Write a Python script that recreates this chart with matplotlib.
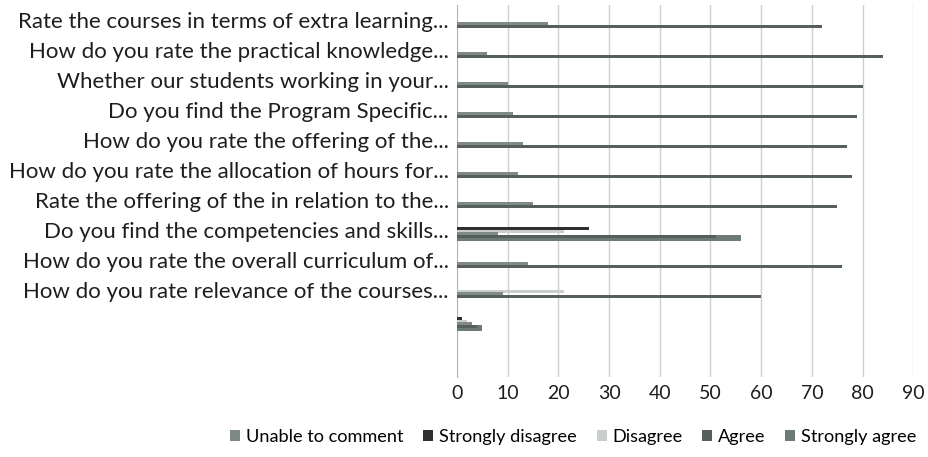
import numpy as np
import matplotlib.pyplot as plt

plt.rcParams['font.family'] = ['Lato', 'DejaVu Sans']

# category labels, top to bottom (last row has no label)
categories = [
    "Rate the courses in terms of extra learning...",
    "How do you rate the practical knowledge...",
    "Whether our students working in your...",
    "Do you find the Program Specific...",
    "How do you rate the offering of the...",
    "How do you rate the allocation of hours for...",
    "Rate the offering of the in relation to the...",
    "Do you find the competencies and skills...",
    "How do you rate the overall curriculum of...",
    "How do you rate relevance of the courses...",
    "",
]

unable = [18, 6, 10, 11, 13, 12, 15, 8, 14, 9, 3]
strongly_disagree = [0, 0, 0, 0, 0, 0, 0, 26, 0, 0, 1]
disagree = [0, 0, 0, 0, 0, 0, 0, 21, 0, 21, 2]
agree = [72, 84, 80, 79, 77, 78, 75, 51, 76, 60, 4]
strongly_agree = [0, 0, 0, 0, 0, 0, 0, 56, 0, 0, 5]

xticks = [0, 10, 20, 30, 40, 50, 60, 70, 80, 90]

fig = plt.figure(figsize=(9.29, 4.57), dpi=100)
ax = fig.add_axes([0.492, 0.175, 0.491, 0.814])

y = np.arange(len(categories))
h = 0.1
# drawing order within a group, top to bottom
series = [
    ("Strongly disagree", strongly_disagree, "#2e302f", -0.04, h),
    ("Disagree", disagree, "#c9cecb", 0.05, h),
    ("Unable to comment", unable, "#7f8a85", 0.13, 0.12),
    ("Strongly agree", strongly_agree, "#6c7c75", 0.26, 0.18),
    ("Agree", agree, "#565f5b", 0.23, h),
]
handles = {}
for name, vals, col, off, hh in series:
    b = ax.barh(y + off, vals, height=hh, color=col, zorder=3)
    handles[name] = b

ax.set_xlim(0, 90)
ax.set_ylim(11.9, -0.5)
ax.set_xticks(xticks)
ax.set_yticks(y)
ax.set_yticklabels(categories, fontsize=16, color="#1e1e1e")
ax.tick_params(axis="x", labelsize=14, colors="#1e1e1e", length=0, pad=6)
ax.tick_params(axis="y", length=0, pad=6)
ax.grid(axis="x", color="#cfcfcf", lw=1, zorder=0)
for s in ["top", "right", "bottom"]:
    ax.spines[s].set_visible(False)
ax.spines["left"].set_color("#b8b8b8")

order = ["Unable to comment", "Strongly disagree", "Disagree", "Agree", "Strongly agree"]
fig.legend([handles[k] for k in order], order, loc="center", bbox_to_anchor=(0.617, 0.043),
           ncol=5, frameon=False, fontsize=13.1, handlelength=0.55, handleheight=0.55,
           handletextpad=0.3, columnspacing=1.1)

fig.savefig("out.png", dpi=100)
